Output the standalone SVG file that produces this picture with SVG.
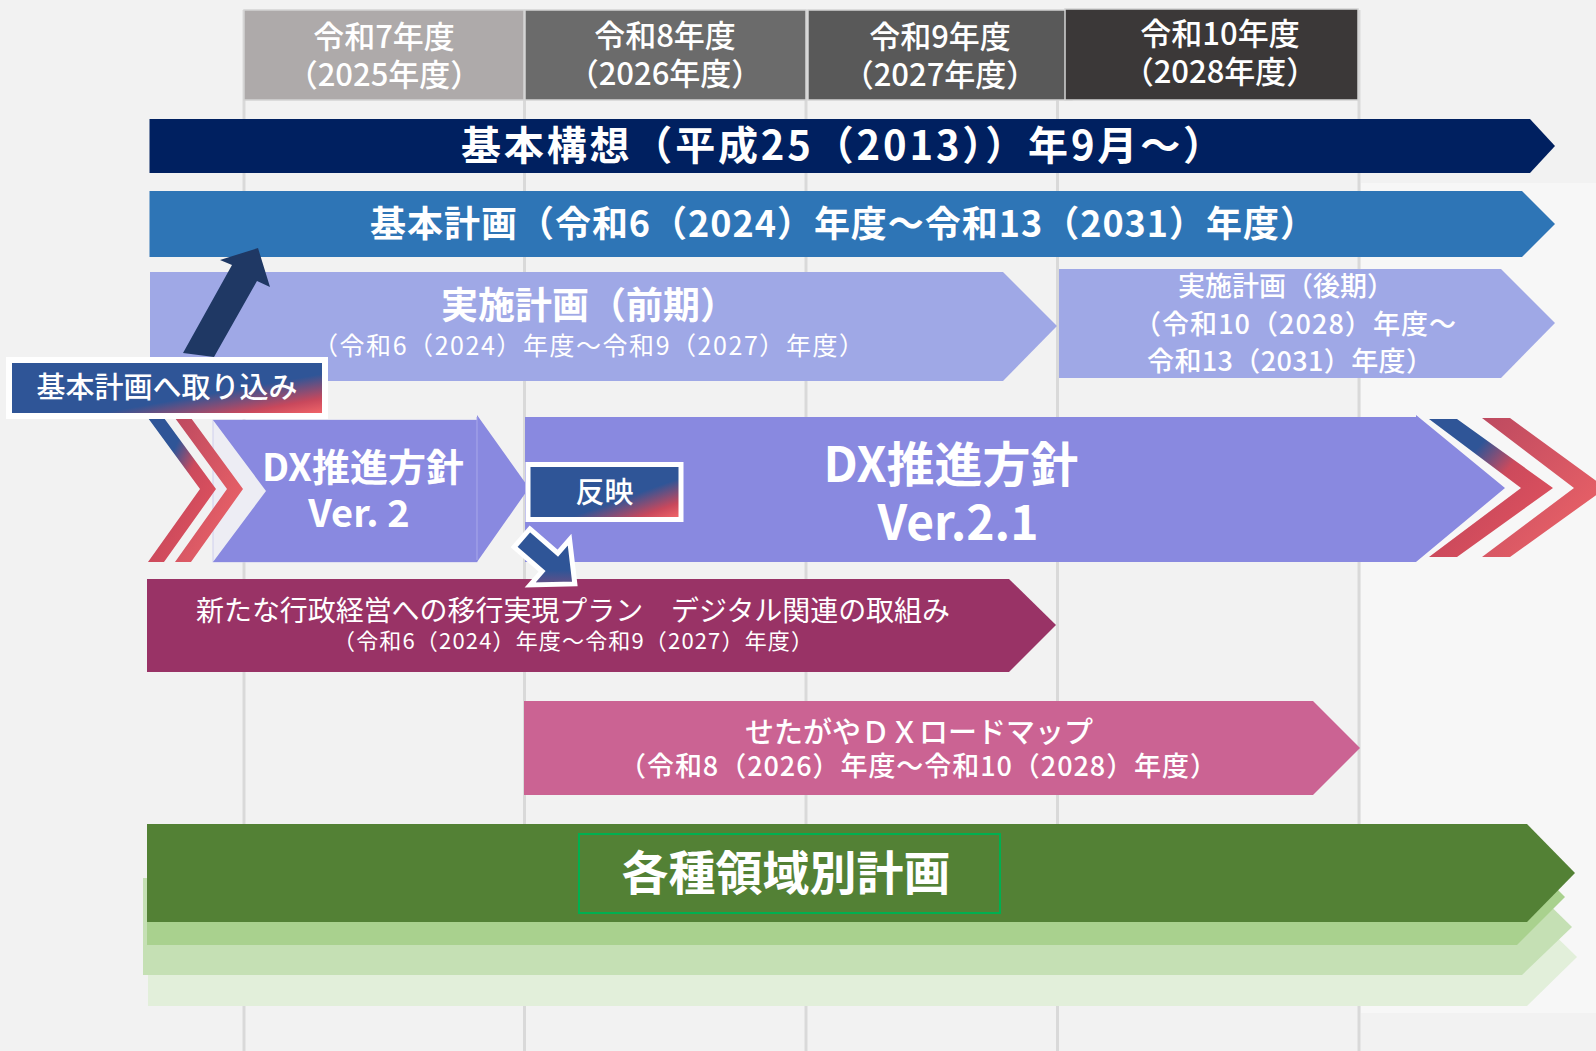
<svg xmlns="http://www.w3.org/2000/svg" width="1596" height="1051" viewBox="0 0 1596 1051">
<defs>
<style>
.t{font-family:"Noto Sans CJK JP","Noto Sans",sans-serif;fill:#fff}
.b{font-weight:700}
.m{font-weight:500}
.grid{stroke:#d9d9d9;stroke-width:3}
.hdr{stroke:#d4d4d4;stroke-width:1.5}
</style>
<linearGradient id="gLabel" x1="0" y1="0" x2="1" y2="1">
<stop offset="0" stop-color="#2f5597"/>
<stop offset="0.62" stop-color="#2f5597"/>
<stop offset="0.84" stop-color="#c8485c"/>
<stop offset="1" stop-color="#fa6b6b"/>
</linearGradient>
<linearGradient id="gCh1" x1="0" y1="0" x2="1" y2="1">
<stop offset="0" stop-color="#2f5597"/>
<stop offset="0.3" stop-color="#2f5597"/>
<stop offset="0.5" stop-color="#cc4a5c"/>
<stop offset="1" stop-color="#e6545f"/>
</linearGradient>
<linearGradient id="gCh2" x1="0" y1="0" x2="1" y2="1">
<stop offset="0" stop-color="#bd4a60"/>
<stop offset="1" stop-color="#f26568"/>
</linearGradient>
<linearGradient id="gArr" x1="0" y1="0" x2="1" y2="1">
<stop offset="0" stop-color="#2f5597"/>
<stop offset="0.6" stop-color="#2f5597"/>
<stop offset="1" stop-color="#b8476c"/>
</linearGradient>
</defs>
<rect width="1596" height="1051" fill="#f2f2f2"/>
<rect x="1361" y="183" width="235" height="830" fill="#f7f7f7"/>

<g id="gridlines">
<line class="grid" x1="244" y1="10" x2="244" y2="1051"/>
<line class="grid" x1="524.5" y1="10" x2="524.5" y2="1051"/>
<line class="grid" x1="806" y1="10" x2="806" y2="1051"/>
<line class="grid" x1="1057.5" y1="10" x2="1057.5" y2="1051"/>
<line class="grid" x1="1359" y1="10" x2="1359" y2="1051"/>
</g>

<g id="hdr-r7">
<rect class="hdr" x="244" y="10" width="280" height="90" fill="#aeaaaa"/>
<text class="t m" x="384" y="48" font-size="31" text-anchor="middle">令和7年度</text>
<text class="t m" x="384" y="86" font-size="31" text-anchor="middle">（2025年度）</text>
</g>
<g id="hdr-r8">
<rect class="hdr" x="525" y="10" width="281" height="90" fill="#6b6b6b"/>
<text class="t m" x="665" y="47" font-size="31" text-anchor="middle">令和8年度</text>
<text class="t m" x="665" y="85" font-size="31" text-anchor="middle">（2026年度）</text>
</g>
<g id="hdr-r9">
<rect class="hdr" x="808" y="10" width="264" height="90" fill="#595959"/>
<text class="t m" x="940" y="48" font-size="31" text-anchor="middle">令和9年度</text>
<text class="t m" x="940" y="86" font-size="31" text-anchor="middle">（2027年度）</text>
</g>
<g id="hdr-r10">
<rect class="hdr" x="1065" y="9" width="293" height="91" fill="#3b3838"/>
<text class="t m" x="1220" y="45" font-size="31" text-anchor="middle">令和10年度</text>
<text class="t m" x="1220" y="83" font-size="31" text-anchor="middle">（2028年度）</text>
</g>

<g id="kihon-koso">
<polygon points="149.5,119 1530,119 1555,146 1530,173 149.5,173" fill="#002060"/>
<text class="t b" x="461" y="160" font-size="40" textLength="762">基本構想（平成25（2013））年9月～）</text>
</g>
<g id="kihon-keikaku">
<polygon points="149.5,191 1522,191 1555,224 1522,257 149.5,257" fill="#2e75b6"/>
<text class="t b" x="370" y="237" font-size="36" textLength="946">基本計画（令和6（2024）年度～令和13（2031）年度）</text>
</g>
<g id="jisshi-zenki">
<polygon points="150,272 1003,272 1057,326 1003,381 150,381" fill="#9fa8e6"/>
<text class="t b" x="441" y="319" font-size="37" textLength="296">実施計画（前期）</text>
<text class="t" x="313" y="355" font-size="25" textLength="551">（令和6（2024）年度～令和9（2027）年度）</text>
</g>
<g id="jisshi-koki">
<polygon points="1059,269 1501,269 1555,323 1501,378 1059,378" fill="#9fa8e6"/>
<text class="t m" x="1286" y="296" font-size="27" text-anchor="middle">実施計画（後期）</text>
<text class="t m" x="1134" y="334" font-size="27" textLength="322">（令和10（2028）年度～</text>
<text class="t m" x="1147" y="371" font-size="27" textLength="286">令和13（2031）年度）</text>
</g>

<g id="dx-ver2">
<rect x="213" y="420" width="264" height="142" fill="#ededf4" stroke="#c9c9ee" stroke-width="0.8"/>
<polygon points="213,420 477,420 477,415 529,488 477,562 213,562 266,491" fill="#8989e0"/>
<line x1="477" y1="417" x2="477" y2="560" stroke="#a8a8ea" stroke-width="1"/>
<text class="t b" x="363" y="481" font-size="38" text-anchor="middle">DX推進方針</text>
<text class="t b" x="359" y="527" font-size="38" text-anchor="middle">Ver. 2</text>
</g>

<g id="dx-ver21">
<polygon points="525,417 1416,417 1416,415 1505,488 1416,562 525,562" fill="#8989e0"/>
<text class="t b" x="951" y="482" font-size="48" text-anchor="middle">DX推進方針</text>
<text class="t b" x="958" y="540" font-size="48" text-anchor="middle">Ver.2.1</text>
</g>

<g id="atarashii">
<polygon points="147,579 1009,579 1056,625 1009,672 147,672" fill="#993366"/>
<text class="t" x="196" y="621" font-size="28" textLength="754">新たな行政経営への移行実現プラン　デジタル関連の取組み</text>
<text class="t" x="333" y="649" font-size="22" textLength="480">（令和6（2024）年度～令和9（2027）年度）</text>
</g>

<g id="setagaya">
<polygon points="524,701 1313,701 1360,748 1313,795 524,795" fill="#cb6393"/>
<text class="t m" x="919" y="743" font-size="29" text-anchor="middle">せたがやＤＸロードマップ</text>
<text class="t m" x="619" y="776" font-size="27" textLength="598">（令和8（2026）年度～令和10（2028）年度）</text>
</g>

<g id="kakushu">
<polygon points="148,908 1527,908 1577,957 1527,1006 148,1006" fill="#e2efda"/>
<polygon points="143,878 1522,878 1572,927 1522,975 143,975" fill="#c5e0b4"/>
<polygon points="147,849 1517,849 1565,897 1517,945 147,945" fill="#a9d18e"/>
<polygon points="147,824 1527,824 1575,873 1527,922 147,922" fill="#538135"/>
<rect x="579" y="834" width="421" height="79" fill="none" stroke="#00b050" stroke-width="2"/>
<text class="t b" x="786" y="890" font-size="47" text-anchor="middle">各種領域別計画</text>
</g>

<g id="connectors">
<polygon points="258,248 270,287 257,281 214,357 183,353 232,265 220,260" fill="#1f3864"/>
<polygon points="148,418 164,418 216,489 164,562 148,562 200,489" fill="url(#gCh1)"/>
<polygon points="175,418 191,418 243,489 191,562 175,562 227,489" fill="url(#gCh2)"/>
<polygon points="1429,419 1457,419 1553,488 1457,557 1429,557 1521,488" fill="url(#gCh1)"/>
<polygon points="1482,418 1510,418 1606,488 1510,557 1482,557 1574,488" fill="url(#gCh2)"/>
<polygon points="0,-12 37,-12 37,-30 70,0 37,30 37,12 0,12" transform="translate(522,538) rotate(41)" fill="url(#gArr)" stroke="#fff" stroke-width="5" stroke-linejoin="miter"/>
</g>

<g id="label-torikomi">
<rect x="9" y="360" width="316" height="56" fill="url(#gLabel)" stroke="#fff" stroke-width="6"/>
<text class="t m" x="167" y="398" font-size="29" text-anchor="middle">基本計画へ取り込み</text>
</g>

<g id="label-hanei">
<rect x="528" y="464.5" width="153" height="55" fill="url(#gLabel)" stroke="#fff" stroke-width="5"/>
<text class="t m" x="604.5" y="503" font-size="29" text-anchor="middle">反映</text>
</g>
</svg>
